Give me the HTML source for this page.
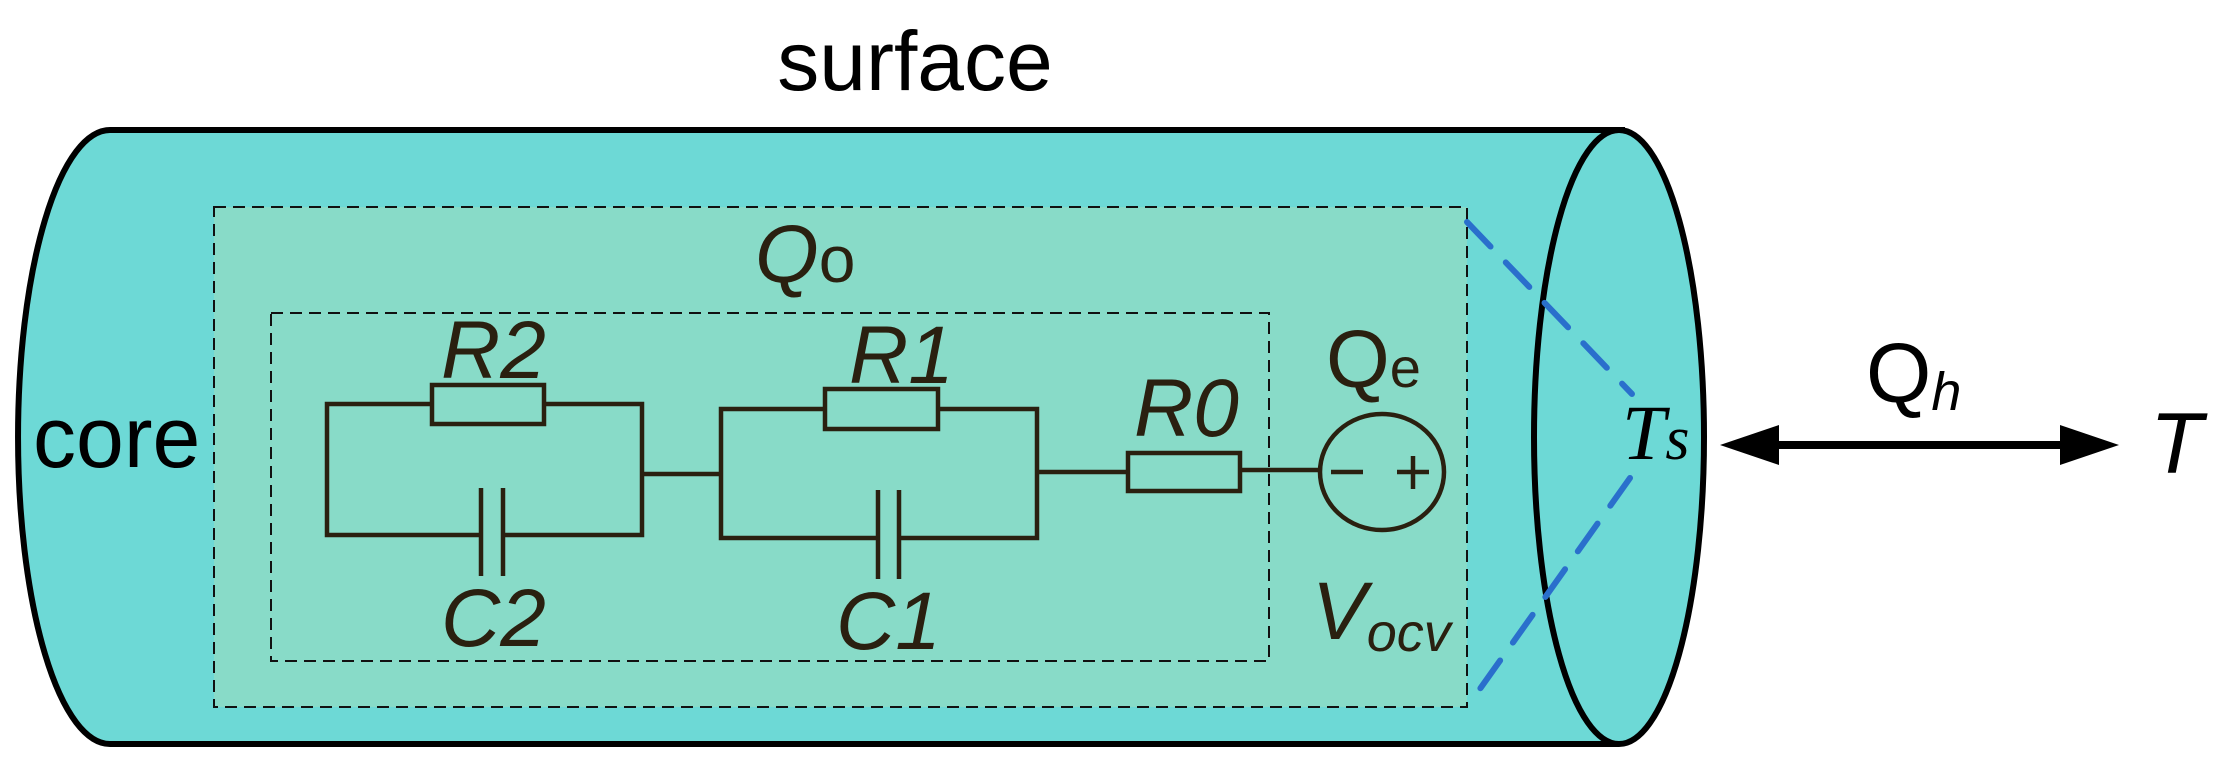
<!DOCTYPE html>
<html><head><meta charset="utf-8"><style>
html,body{margin:0;padding:0;background:#fff;}
svg{display:block;}
</style></head><body>
<svg width="2219" height="765" viewBox="0 0 2219 765" xmlns="http://www.w3.org/2000/svg">
<!-- cylinder body -->
<path d="M110,130 L1619,130 L1619,744 L110,744 A92,307 0 0 1 110,130 Z" fill="#6dd9d6" stroke="none"/>
<path d="M1625,130 L110,130 A92,307 0 0 0 110,744 L1619,744" fill="none" stroke="#000" stroke-width="6"/>
<!-- outer dashed box -->
<rect x="214" y="207" width="1253" height="500" fill="#88dbc8" stroke="#111" stroke-width="2" stroke-dasharray="12,7"/>
<!-- inner dashed box -->
<rect x="271" y="313" width="998" height="348" fill="none" stroke="#111" stroke-width="2" stroke-dasharray="12,7"/>
<!-- right ellipse -->
<ellipse cx="1619" cy="437" rx="85" ry="307" fill="#6dd9d6" stroke="#000" stroke-width="6"/>
<!-- blue dashed line -->
<polyline points="1467,222 1632,394" fill="none" stroke="#2a6fcc" stroke-width="6" stroke-linecap="round" stroke-dasharray="34,22"/>
<polyline points="1630,478 1472,700" fill="none" stroke="#2a6fcc" stroke-width="6" stroke-linecap="round" stroke-dasharray="34,22"/>
<!-- circuit -->
<g fill="none" stroke="#2a2010" stroke-width="4.5">
  <polyline points="432,404 327,404 327,535 481,535"/>
  <polyline points="544,404 642,404 642,535 503,535"/>
  <rect x="432" y="385" width="112" height="39"/>
  <line x1="481" y1="488" x2="481" y2="576"/>
  <line x1="503" y1="488" x2="503" y2="576"/>
  <line x1="642" y1="474" x2="721" y2="474"/>
  <polyline points="825,409 721,409 721,538 878,538"/>
  <polyline points="938,409 1037,409 1037,538 899,538"/>
  <rect x="825" y="389" width="113" height="40"/>
  <line x1="878" y1="490" x2="878" y2="579"/>
  <line x1="899" y1="490" x2="899" y2="579"/>
  <line x1="1037" y1="472" x2="1128" y2="472"/>
  <rect x="1128" y="453" width="112" height="38"/>
  <line x1="1240" y1="470" x2="1319" y2="470"/>
  <ellipse cx="1382" cy="472" rx="62" ry="58"/>
  <line x1="1331" y1="472" x2="1363" y2="472"/>
  <line x1="1397" y1="472" x2="1429" y2="472"/>
  <line x1="1413" y1="456" x2="1413" y2="489"/>
</g>
<!-- arrow -->
<line x1="1770" y1="445" x2="2070" y2="445" stroke="#000" stroke-width="8"/>
<polygon points="1720,445 1779,425 1779,465" fill="#000"/>
<polygon points="2119,445 2060,425 2060,465" fill="#000"/>
<!-- text -->
<g font-family="Liberation Sans, Arial, sans-serif" fill="#000">
  <text x="915" y="90" font-size="84" text-anchor="middle">surface</text>
  <text x="33" y="467" font-size="86">core</text>
</g>
<g font-family="Liberation Sans, Arial, sans-serif" fill="#2a2010" font-style="italic">
  <text x="755" y="282" font-size="82">Q<tspan font-style="normal" font-size="66">o</tspan></text>
  <text x="441" y="378" font-size="82">R2</text>
  <text x="849" y="383" font-size="82">R1</text>
  <text x="1134" y="436" font-size="82">R0</text>
  <text x="441" y="646" font-size="82">C2</text>
  <text x="836" y="649" font-size="82">C1</text>
  <text x="1326" y="387" font-size="82" font-style="normal">Q<tspan font-size="56">e</tspan></text>
  <text x="1312" y="639" font-size="82">V<tspan font-size="54" dy="12">ocv</tspan></text>
  <text x="1866" y="402" font-size="84" fill="#000" font-style="normal">Q<tspan font-style="italic" font-size="54" dy="8">h</tspan></text>
  <text x="2150" y="473" font-size="86" fill="#000">T</text>
</g>
<text x="1622" y="459" font-family="Liberation Serif, Times New Roman, serif" font-style="italic" font-size="78" fill="#000">T<tspan font-size="62">s</tspan></text>
</svg>
</body></html>
